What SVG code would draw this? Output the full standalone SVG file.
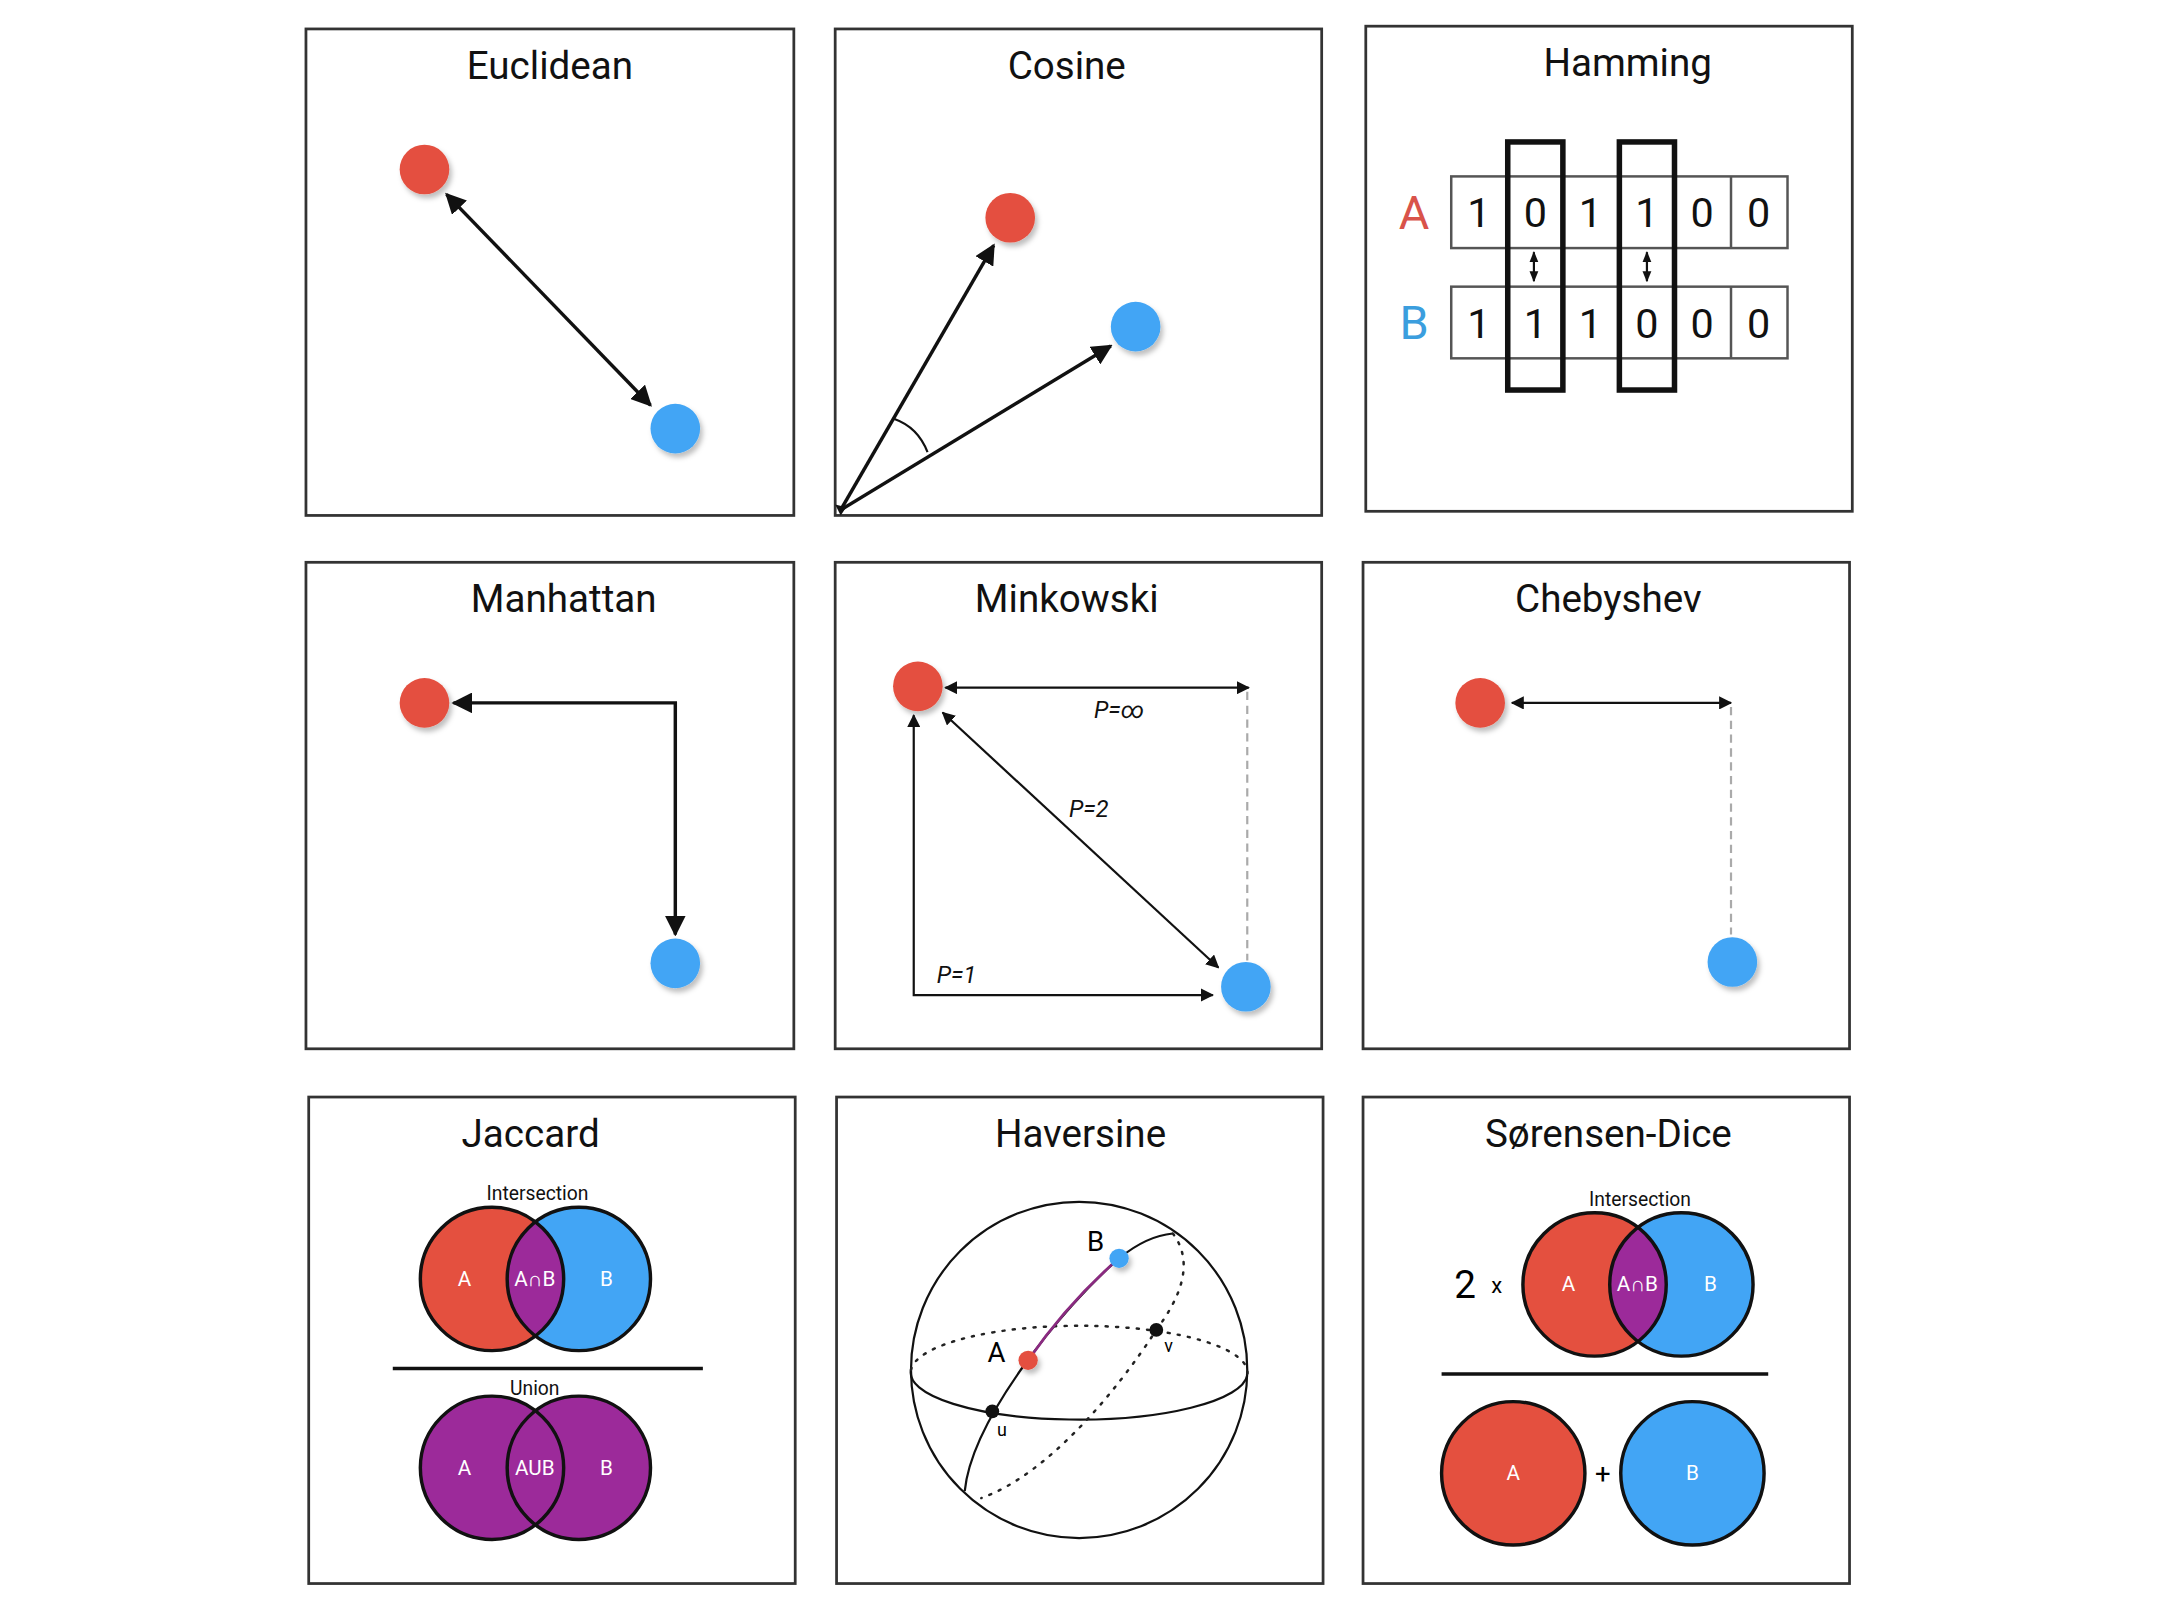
<svg xmlns="http://www.w3.org/2000/svg" width="2161" height="1614" viewBox="0 0 2161 1614">
<style>
.box{fill:#fff;stroke:#333;stroke-width:2}
.t{font-family:Roboto,"Liberation Sans",sans-serif;font-size:28px;text-anchor:middle;fill:#111}
.s{font-family:Roboto,"Liberation Sans",sans-serif;font-size:14px;text-anchor:middle;fill:#111}
.l{stroke:#111;stroke-width:2.5;fill:none}
.th{stroke:#111;stroke-width:1.6;fill:none}
.r{fill:#e4503f;filter:url(#sh)}
.b{fill:#42a5f5;filter:url(#sh)}
.dash{stroke:#aaa;stroke-width:1.6;stroke-dasharray:6 4;fill:none}
.it{font-family:Roboto,"Liberation Sans",sans-serif;font-size:17px;font-style:italic;text-anchor:middle;fill:#111}
.cell{fill:none;stroke:#555;stroke-width:1.8}
.thick{fill:none;stroke:#111;stroke-width:4}
.d{font-family:Roboto,"Liberation Sans",sans-serif;font-size:30px;text-anchor:middle;fill:#111}
.vc{stroke:#111;stroke-width:2.5}
.vt{font-family:Roboto,"Liberation Sans",sans-serif;font-size:15px;text-anchor:middle;fill:#fff}
.vt2{font-family:Roboto,"Liberation Sans",sans-serif;font-size:15px;text-anchor:middle;fill:#222}
</style>
<defs>
<filter id="sh" x="-50%" y="-50%" width="200%" height="200%"><feDropShadow dx="2" dy="3" stdDeviation="2" flood-color="#000" flood-opacity="0.25"/></filter>
<marker id="a" viewBox="0 0 10 10" refX="9" refY="5" markerWidth="6" markerHeight="6" orient="auto-start-reverse"><path d="M0,0L10,5L0,10z" fill="#111"/></marker>
<marker id="a2" viewBox="0 0 10 10" refX="9" refY="5" markerWidth="5" markerHeight="5" orient="auto-start-reverse"><path d="M0,1L10,5L0,9z" fill="#111"/></marker>
<clipPath id="cA1"><circle cx="357" cy="928" r="52"/></clipPath>
<clipPath id="cA2"><circle cx="1157" cy="932" r="52"/></clipPath>
</defs>
<rect width="2161" height="1614" fill="#fff"/>
<g transform="scale(1.37819)">
<g id="euclidean">
<rect class="box" x="222" y="21" width="354" height="353"/>
<text class="t" x="399" y="57">Euclidean</text>
<circle class="r" cx="308" cy="123" r="18"/>
<circle class="b" cx="490" cy="311" r="18"/>
</g>
<g id="cosine">
<rect class="box" x="606" y="21" width="353" height="353"/>
<text class="t" x="774" y="57">Cosine</text>
<circle class="r" cx="733" cy="158" r="18"/>
<circle class="b" cx="824" cy="237" r="18"/>
<path class="th" d="M649,304 Q666,310 673,328"/>
</g>
<g id="hamming">
<rect class="box" x="991" y="19" width="353" height="352"/>
<text class="t" x="1181" y="55">Hamming</text>
<text x="1026" y="166" style="font-family:Roboto,'Liberation Sans',sans-serif;font-size:34px;fill:#d9534a;text-anchor:middle">A</text>
<text x="1026" y="246" style="font-family:Roboto,'Liberation Sans',sans-serif;font-size:34px;fill:#3b9ede;text-anchor:middle">B</text>
<rect class="cell" x="1053" y="128" width="244" height="52"/>
<rect class="cell" x="1053" y="208" width="244" height="52"/>
<path class="cell" d="M1256,128V180M1256,208V260M1134,128V180M1175,128V180M1134,208V260M1175,208V260"/>
<rect class="thick" x="1094" y="103" width="40" height="180"/>
<rect class="thick" x="1175" y="103" width="40" height="180"/>
<g class="d">
<text x="1073" y="165">1</text><text x="1114" y="165">0</text><text x="1154" y="165">1</text><text x="1195" y="165">1</text><text x="1235" y="165">0</text><text x="1276" y="165">0</text>
<text x="1073" y="245">1</text><text x="1114" y="245">1</text><text x="1154" y="245">1</text><text x="1195" y="245">0</text><text x="1235" y="245">0</text><text x="1276" y="245">0</text>
</g>
</g>
<g id="manhattan">
<rect class="box" x="222" y="408" width="354" height="353"/>
<text class="t" x="409" y="444">Manhattan</text>
<circle class="r" cx="308" cy="510" r="18"/>
<circle class="b" cx="490" cy="699" r="18"/>
</g>
<g id="minkowski">
<rect class="box" x="606" y="408" width="353" height="353"/>
<text class="t" x="774" y="444">Minkowski</text>
<circle class="r" cx="666" cy="498" r="18"/>
<circle class="b" cx="904" cy="716" r="18"/>
<text class="it" x="812" y="521">P=∞</text>
<text class="it" x="790" y="593">P=2</text>
<text class="it" x="694" y="713">P=1</text>
</g>
<g id="chebyshev">
<rect class="box" x="989" y="408" width="353" height="353"/>
<text class="t" x="1167" y="444">Chebyshev</text>
<circle class="r" cx="1074" cy="510" r="18"/>
<circle class="b" cx="1257" cy="698" r="18"/>
</g>
<g id="jaccard">
<rect class="box" x="224" y="796" width="353" height="353"/>
<text class="t" x="385" y="832">Jaccard</text>
<text class="s" x="390" y="871">Intersection</text>
<circle cx="357" cy="928" r="52" fill="#e4503f"/>
<circle cx="420" cy="928" r="52" fill="#42a5f5"/>
<circle cx="420" cy="928" r="52" fill="#9c2a9a" clip-path="url(#cA1)"/>
<circle class="vc" cx="357" cy="928" r="52" fill="none"/>
<circle class="vc" cx="420" cy="928" r="52" fill="none"/>
<text class="vt" x="337" y="933">A</text><text class="vt" x="388" y="933">A∩B</text><text class="vt" x="440" y="933">B</text>
<line x1="285" y1="993" x2="510" y2="993" stroke="#111" stroke-width="2.5"/>
<text class="s" x="388" y="1012">Union</text>
<circle cx="357" cy="1065" r="52" fill="#9c2a9a"/>
<circle cx="420" cy="1065" r="52" fill="#9c2a9a"/>
<circle class="vc" cx="357" cy="1065" r="52" fill="none"/>
<circle class="vc" cx="420" cy="1065" r="52" fill="none"/>
<text class="vt" x="337" y="1070">A</text><text class="vt" x="388" y="1070">AUB</text><text class="vt" x="440" y="1070">B</text>
</g>
<g id="haversine">
<rect class="box" x="607" y="796" width="353" height="353"/>
<text class="t" x="784" y="832">Haversine</text>
<circle class="th" cx="783" cy="994" r="122"/>
<path class="th" d="M661,994 A122,34 0 0 0 905,998"/>
<path d="M661,994 A122,34 0 0 1 905,998" fill="none" stroke="#222" stroke-width="1.8" stroke-dasharray="1.5 6" stroke-linecap="round"/>
<path class="th" d="M700,1082 C705,1030 770,950 812,913 C828,900 840,896 851,895"/>
<path d="M851,895 C870,920 850,950 839,965 C810,1010 760,1070 712,1087" fill="none" stroke="#222" stroke-width="1.8" stroke-dasharray="1.5 6" stroke-linecap="round"/>
<path d="M746,987 Q775,945 812,913" fill="none" stroke="#8a2a80" stroke-width="2"/>
<circle cx="720" cy="1024" r="5" fill="#111"/>
<circle cx="839" cy="965" r="5" fill="#111"/>
<circle class="r" cx="746" cy="987" r="7"/>
<circle class="b" cx="812" cy="913" r="7"/>
<text x="795" y="908" style="font-family:Roboto,'Liberation Sans',sans-serif;font-size:20px;text-anchor:middle">B</text>
<text x="723" y="988" style="font-family:Roboto,'Liberation Sans',sans-serif;font-size:20px;text-anchor:middle">A</text>
<text x="727" y="1042" style="font-family:Roboto,'Liberation Sans',sans-serif;font-size:13px;text-anchor:middle">u</text>
<text x="848" y="981" style="font-family:Roboto,'Liberation Sans',sans-serif;font-size:13px;text-anchor:middle">v</text>
</g>
<g id="sorensen-dice">
<rect class="box" x="989" y="796" width="353" height="353"/>
<text class="t" x="1167" y="832">Sørensen-Dice</text>
<text class="s" x="1190" y="875">Intersection</text>
<text x="1063" y="942" style="font-family:Roboto,'Liberation Sans',sans-serif;font-size:28px;text-anchor:middle">2</text>
<text x="1086" y="938" style="font-family:Roboto,'Liberation Sans',sans-serif;font-size:16px;text-anchor:middle">x</text>
<circle cx="1157" cy="932" r="52" fill="#e4503f"/>
<circle cx="1220" cy="932" r="52" fill="#42a5f5"/>
<circle cx="1220" cy="932" r="52" fill="#9c2a9a" clip-path="url(#cA2)"/>
<circle class="vc" cx="1157" cy="932" r="52" fill="none"/>
<circle class="vc" cx="1220" cy="932" r="52" fill="none"/>
<text class="vt" x="1138" y="937">A</text><text class="vt" x="1188" y="937">A∩B</text><text class="vt" x="1241" y="937">B</text>
<line x1="1046" y1="997" x2="1283" y2="997" stroke="#111" stroke-width="2.5"/>
<circle class="vc" cx="1098" cy="1069" r="52" fill="#e4503f"/>
<circle class="vc" cx="1228" cy="1069" r="52" fill="#42a5f5"/>
<text class="vt" x="1098" y="1074">A</text><text class="vt" x="1228" y="1074">B</text>
<text x="1163" y="1076" style="font-family:Roboto,'Liberation Sans',sans-serif;font-size:20px;text-anchor:middle">+</text>
</g>
<g id="connectors">
<line class="l" x1="324" y1="141" x2="472" y2="294" marker-start="url(#a)" marker-end="url(#a)"/>
<line class="l" x1="610" y1="370" x2="721" y2="178" marker-end="url(#a)"/>
<line class="l" x1="610" y1="370" x2="806" y2="251" marker-end="url(#a)"/>
<path d="M606,366L614,368L610,374z" fill="#111"/>
<line class="th" x1="1113" y1="183" x2="1113" y2="204" marker-start="url(#a2)" marker-end="url(#a2)"/>
<line class="th" x1="1195" y1="183" x2="1195" y2="204" marker-start="url(#a2)" marker-end="url(#a2)"/>
<polyline class="l" points="490,678 490,510 329,510" marker-start="url(#a)" marker-end="url(#a)"/>
<line class="th" x1="686" y1="499" x2="906" y2="499" marker-start="url(#a)" marker-end="url(#a)"/>
<line class="dash" x1="905" y1="502" x2="905" y2="697"/>
<line class="th" x1="684" y1="517" x2="884" y2="702" marker-start="url(#a)" marker-end="url(#a)"/>
<polyline class="th" points="663,519 663,722 880,722" marker-start="url(#a)" marker-end="url(#a)"/>
<line class="th" x1="1097" y1="510" x2="1256" y2="510" marker-start="url(#a)" marker-end="url(#a)"/>
<line class="dash" x1="1256" y1="513" x2="1256" y2="678"/>
</g>
</g>
</svg>
